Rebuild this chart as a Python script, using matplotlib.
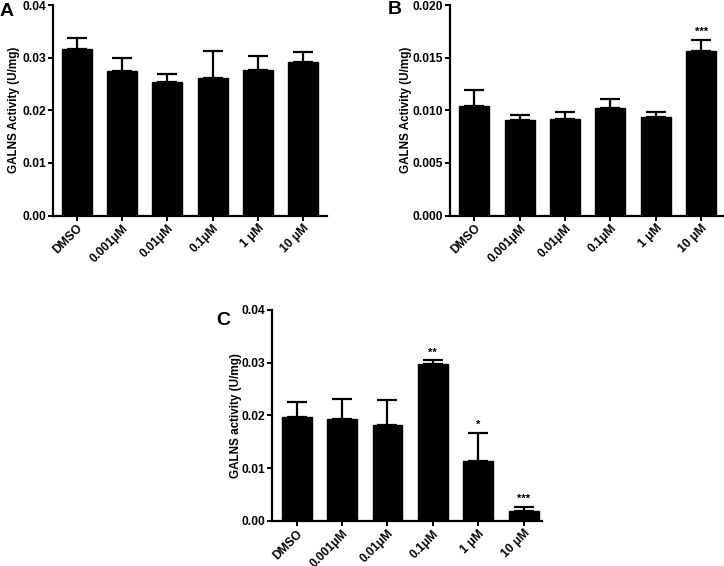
import matplotlib
matplotlib.use("Agg")
import matplotlib.pyplot as plt
import numpy as np

plt.rcParams['font.family'] = ['Liberation Sans', 'DejaVu Sans']
plt.rcParams['font.weight'] = 'bold'

categories = ["DMSO", "0.001\u03bcM", "0.01\u03bcM", "0.1\u03bcM", "1 \u03bcM", "10 \u03bcM"]

a_means = [0.0316, 0.0274, 0.0253, 0.0262, 0.0277, 0.0291]
a_err = [0.0022, 0.0026, 0.0016, 0.0051, 0.0026, 0.0020]
a_sig = ["", "", "", "", "", ""]
a_ticks = [0.00, 0.01, 0.02, 0.03, 0.04]
a_ticklabels = ["0.00", "0.01", "0.02", "0.03", "0.04"]

b_means = [0.01036, 0.00903, 0.00916, 0.01017, 0.00936, 0.01567]
b_err = [0.00152, 0.00054, 0.00063, 0.00092, 0.00050, 0.00104]
b_sig = ["", "", "", "", "", "***"]
b_ticks = [0.000, 0.005, 0.010, 0.015, 0.020]
b_ticklabels = ["0.000", "0.005", "0.010", "0.015", "0.020"]

c_means = [0.01974, 0.01925, 0.01817, 0.0297, 0.01139, 0.00184]
c_err = [0.00274, 0.00385, 0.00469, 0.00075, 0.00531, 0.00076]
c_sig = ["", "", "", "**", "*", "***"]
c_ticks = [0.00, 0.01, 0.02, 0.03, 0.04]
c_ticklabels = ["0.00", "0.01", "0.02", "0.03", "0.04"]

W, H = 724, 566
fig = plt.figure(figsize=(W / 100, H / 100), dpi=100)


def px_axes(left, right, top, bottom):
    return fig.add_axes([left / W, 1 - bottom / H, (right - left) / W, (bottom - top) / H])


def panel(ax, means, err, sig, ticks, ticklabels, ymax, ylabel, letter, xlim, letter_xy, ylab_x):
    x = np.arange(len(categories))
    lower = np.zeros(len(err))
    ax.bar(x, means, width=0.66, color="black", edgecolor="black", zorder=3,
           yerr=[lower, err], capsize=7, error_kw=dict(elinewidth=1.6, capthick=1.6, ecolor="black", zorder=2))
    ax.set_xlim(*xlim)
    ax.set_ylim(0, ymax)
    ax.set_yticks(ticks)
    ax.set_yticklabels(ticklabels, fontsize=8.7, fontweight="bold")
    ax.set_xticks(x)
    ax.set_xticklabels(categories, rotation=45, ha="right", rotation_mode="anchor",
                       fontsize=8.7, fontweight="bold")
    for s in ["top", "right"]:
        ax.spines[s].set_visible(False)
    for s in ["left", "bottom"]:
        ax.spines[s].set_linewidth(1.6)
    ax.tick_params(axis="both", direction="out", length=3.5, width=1.4, pad=1.5)
    ax.set_ylabel(ylabel, fontsize=8.4, fontweight="bold")
    ax.yaxis.set_label_coords(ylab_x, 0.5)
    for i, (m, e, s) in enumerate(zip(means, err, sig)):
        if s:
            ax.annotate(s, (i, m + e), xytext=(0, 2.0), textcoords="offset points",
                        ha="center", va="bottom", fontsize=8, fontweight="bold")
    fig.text(letter_xy[0] / W, 1 - letter_xy[1] / H, letter, fontsize=14, fontweight="bold",
             ha="left", va="center")


axA = px_axes(53.3, 326.7, 5, 215.5)
panel(axA, a_means, a_err, a_sig, a_ticks, a_ticklabels, 0.04,
      "GALNS Activity (U/mg)", "A", (-0.516, 5.516), (0, 11), -0.12)

axB = px_axes(450, 724, 5, 215.5)
panel(axB, b_means, b_err, b_sig, b_ticks, b_ticklabels, 0.020,
      "GALNS Activity (U/mg)", "B", (-0.53, 5.5), (388, 10), -0.139)

axC = px_axes(272.3, 541.7, 310, 520.7)
panel(axC, c_means, c_err, c_sig, c_ticks, c_ticklabels, 0.04,
      "GALNS activity (U/mg)", "C", (-0.54, 5.4), (216, 320.5), -0.114)

fig.savefig("out.png", dpi=100)
